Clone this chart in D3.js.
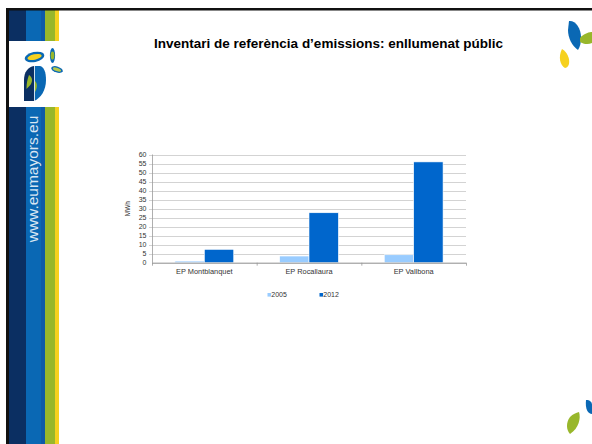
<!DOCTYPE html>
<html>
<head>
<meta charset="utf-8">
<script src="https://cdn.jsdelivr.net/npm/d3@7"></script>
<style>
  body { margin: 0; background: #fff; }
  svg { display: block; font-family: "Liberation Sans", Arial, sans-serif; }
</style>
</head>
<body>
<div id="graphic"></div>
<script>
var width = 592, height = 444;

// data
var categories = ["EP Montblanquet", "EP Rocallaura", "EP Vallbona"];
var seriesNames = ["2005", "2012"];
var values2005 = [0.9, 3.7, 4.4];
var values2012 = [7.4, 27.7, 55.9];
var yTicks = [0, 5, 10, 15, 20, 25, 30, 35, 40, 45, 50, 55, 60];
var seriesColors = ["#99ccff", "#0066cc"];

var svg = d3.select("#graphic")
  .append("svg")
  .attr("width", width)
  .attr("height", height);

svg.append("rect").attr("x", 0).attr("y", 0).attr("width", width).attr("height", height).attr("fill", "#fff");

// left stripes
var stripes = [
  {x: 9, w: 17, c: "#0b2f62"},
  {x: 26, w: 15, c: "#0a68b4"},
  {x: 41, w: 4, c: "#0d5aa8"},
  {x: 45, w: 10, c: "#98b72b"},
  {x: 55, w: 4, c: "#f6d11f"}
];
svg.selectAll("rect.stripe")
  .data(stripes)
  .enter().append("rect")
  .attr("class", "stripe")
  .attr("x", function(d){ return d.x; })
  .attr("y", 10)
  .attr("width", function(d){ return d.w; })
  .attr("height", height - 10)
  .attr("fill", function(d){ return d.c; });

// black frame lines
svg.append("rect").attr("x", 6).attr("y", 8).attr("width", width - 6).attr("height", 2.5).attr("fill", "#111");
svg.append("rect").attr("x", 6).attr("y", 8).attr("width", 3).attr("height", height - 8).attr("fill", "#111");

// logo box
svg.append("rect").attr("x", 9).attr("y", 41).attr("width", 55).attr("height", 66).attr("fill", "#fff");
var logo = svg.append("g");
// drop shape, two halves
logo.append("path")
  .attr("d", "M24,101 L24,80 C24,72 28,67 34,66 L34,101 Z")
  .attr("fill", "#0b2f62");
logo.append("path")
  .attr("d", "M34,66 L40,66 C44,67 46,72 46,80 C46,90 41,98 34,101 Z")
  .attr("fill", "#0a68b4");
logo.append("path")
  .attr("d", "M29,75 C32,77 33,80 31,84 C30,86 28,87 26.5,89 C26.5,83 27.5,79 29,75 Z M35,81 C37.5,83 37.5,88 35,92 Z")
  .attr("fill", "#98b72b");
logo.append("line")
  .attr("x1", 34.5).attr("x2", 34.5).attr("y1", 48).attr("y2", 101)
  .attr("stroke", "#fff").attr("stroke-width", 0.8);
// leaves on top
function leaf(cx, cy, rx, ry, rot, outer, inner){
  var g = logo.append("g").attr("transform", "translate(" + cx + "," + cy + ") rotate(" + rot + ")");
  g.append("ellipse").attr("rx", rx).attr("ry", ry).attr("fill", outer);
  g.append("ellipse").attr("rx", rx * 0.72).attr("ry", ry * 0.55).attr("fill", inner);
}
leaf(34.5, 57, 10, 5, -12, "#0a68b4", "#f6d11f");
leaf(52.5, 55.5, 2.6, 7.5, 0, "#0a68b4", "#98b72b");
leaf(57, 69.5, 6, 3, 18, "#0a68b4", "#b5c84a");

// url text
svg.append("text")
  .attr("transform", "translate(38,179) rotate(-90)")
  .attr("text-anchor", "middle")
  .attr("font-size", "15.5px")
  .attr("fill", "#ffffff")
  .attr("fill-opacity", 0.85)
  .text("www.eumayors.eu");

// right-side leaves
var leaves = svg.append("g");
leaves.append("path").attr("d", "M569,21 C575,20 581,28 581,37 C581,43 580,47 578,50 C572,46 568,38 568,30 Z").attr("fill", "#0a68b4");
leaves.append("path").attr("d", "M580,38 C584,33 590,32 592,32 L592,43 C588,45 583,44 580,42 Z").attr("fill", "#98b72b");
leaves.append("path").attr("d", "M562,49 C567,52 570,58 569,64 C568,67 566,68 565,68 C560,65 558,57 562,49 Z").attr("fill", "#f6d11f");
leaves.append("path").attr("d", "M586,400 C590,400 592,402 592,405 L592,414 C588,414 585,409 586,400 Z").attr("fill", "#0a68b4");
leaves.append("path").attr("d", "M579,412 C581,418 579,428 570,434 C566,430 566,422 570,417 C573,414 576,413 579,412 Z").attr("fill", "#98b72b");

// title
svg.append("text")
  .attr("x", 328.5)
  .attr("y", 48)
  .attr("text-anchor", "middle")
  .attr("font-size", "13.5px")
  .attr("font-weight", "bold")
  .attr("fill", "#000")
  .text("Inventari de referència d’emissions: enllumenat públic");

// chart
var margin = {left: 152, top: 154.5, right: 466, bottom: 262.7};

var x0 = d3.scaleBand()
  .domain(categories)
  .range([margin.left, margin.right])
  .paddingInner(0)
  .paddingOuter(0);

var x1 = d3.scaleBand()
  .domain(seriesNames)
  .range([0, x0.bandwidth()])
  .paddingInner(0)
  .paddingOuter(0.78);

var y = d3.scaleLinear()
  .domain([0, 60])
  .range([margin.bottom, margin.top]);

// gridlines
svg.append("g")
  .selectAll("line")
  .data(yTicks.filter(function(d){ return d > 0; }))
  .enter().append("line")
  .attr("x1", margin.left - 3)
  .attr("x2", margin.right)
  .attr("y1", function(d){ return Math.round(y(d)) + 0.5; })
  .attr("y2", function(d){ return Math.round(y(d)) + 0.5; })
  .attr("stroke", "#c8c8c8")
  .attr("stroke-width", 0.8);

// y axis labels
svg.append("g")
  .selectAll("text")
  .data(yTicks)
  .enter().append("text")
  .attr("x", 146.5)
  .attr("y", function(d){ return y(d) + 2.5; })
  .attr("text-anchor", "end")
  .attr("font-size", "7px")
  .attr("fill", "#333")
  .text(function(d){ return d; });

// y axis line
svg.append("line")
  .attr("x1", margin.left + 0.5).attr("x2", margin.left + 0.5)
  .attr("y1", margin.top).attr("y2", margin.bottom)
  .attr("stroke", "#9a9a9a").attr("stroke-width", 0.8);

// y axis title
svg.append("text")
  .attr("transform", "translate(130," + ((margin.top + margin.bottom) / 2) + ") rotate(-90)")
  .attr("text-anchor", "middle")
  .attr("font-size", "6.5px")
  .attr("fill", "#333")
  .text("MWh");

// bars
var rows = categories.map(function(c, i){
  return {cat: c, vals: [values2005[i], values2012[i]]};
});

var groups = svg.append("g")
  .selectAll("g")
  .data(rows)
  .enter().append("g")
  .attr("transform", function(d){ return "translate(" + x0(d.cat) + ",0)"; });

groups.selectAll("rect")
  .data(function(d){ return d.vals.map(function(v, j){ return {s: seriesNames[j], v: v, j: j}; }); })
  .enter().append("rect")
  .attr("x", function(d){ return x1(d.s); })
  .attr("y", function(d){ return y(d.v); })
  .attr("width", x1.bandwidth())
  .attr("height", function(d){ return y(0) - y(d.v); })
  .attr("fill", function(d){ return seriesColors[d.j]; })
  .attr("stroke", "#ffffff")
  .attr("stroke-width", 0.6);

// x axis line and ticks
svg.append("line")
  .attr("x1", margin.left).attr("x2", margin.right)
  .attr("y1", margin.bottom + 0.5).attr("y2", margin.bottom + 0.5)
  .attr("stroke", "#808080").attr("stroke-width", 0.9);

var boundaries = categories.map(function(c){ return x0(c); }).concat([margin.right]);
svg.append("g")
  .selectAll("line")
  .data(boundaries)
  .enter().append("line")
  .attr("x1", function(d){ return d + 0.5; })
  .attr("x2", function(d){ return d + 0.5; })
  .attr("y1", margin.bottom)
  .attr("y2", margin.bottom + 3)
  .attr("stroke", "#999").attr("stroke-width", 0.8);

// category labels
svg.append("g")
  .selectAll("text")
  .data(categories)
  .enter().append("text")
  .attr("x", function(d){ return x0(d) + x0.bandwidth() / 2; })
  .attr("y", 274)
  .attr("text-anchor", "middle")
  .attr("font-size", "7.4px")
  .attr("fill", "#333")
  .text(function(d){ return d; });

// legend
var legendX = [267.5, 319.5];
var legend = svg.append("g")
  .selectAll("g")
  .data(seriesNames)
  .enter().append("g")
  .attr("transform", function(d, i){ return "translate(" + legendX[i] + ",293)"; });

legend.append("rect")
  .attr("width", 3.6)
  .attr("height", 3.6)
  .attr("fill", function(d, i){ return seriesColors[i]; });

legend.append("text")
  .attr("x", 3.8)
  .attr("y", 4)
  .attr("font-size", "7px")
  .attr("fill", "#333")
  .text(function(d){ return d; });
</script>
</body>
</html>
